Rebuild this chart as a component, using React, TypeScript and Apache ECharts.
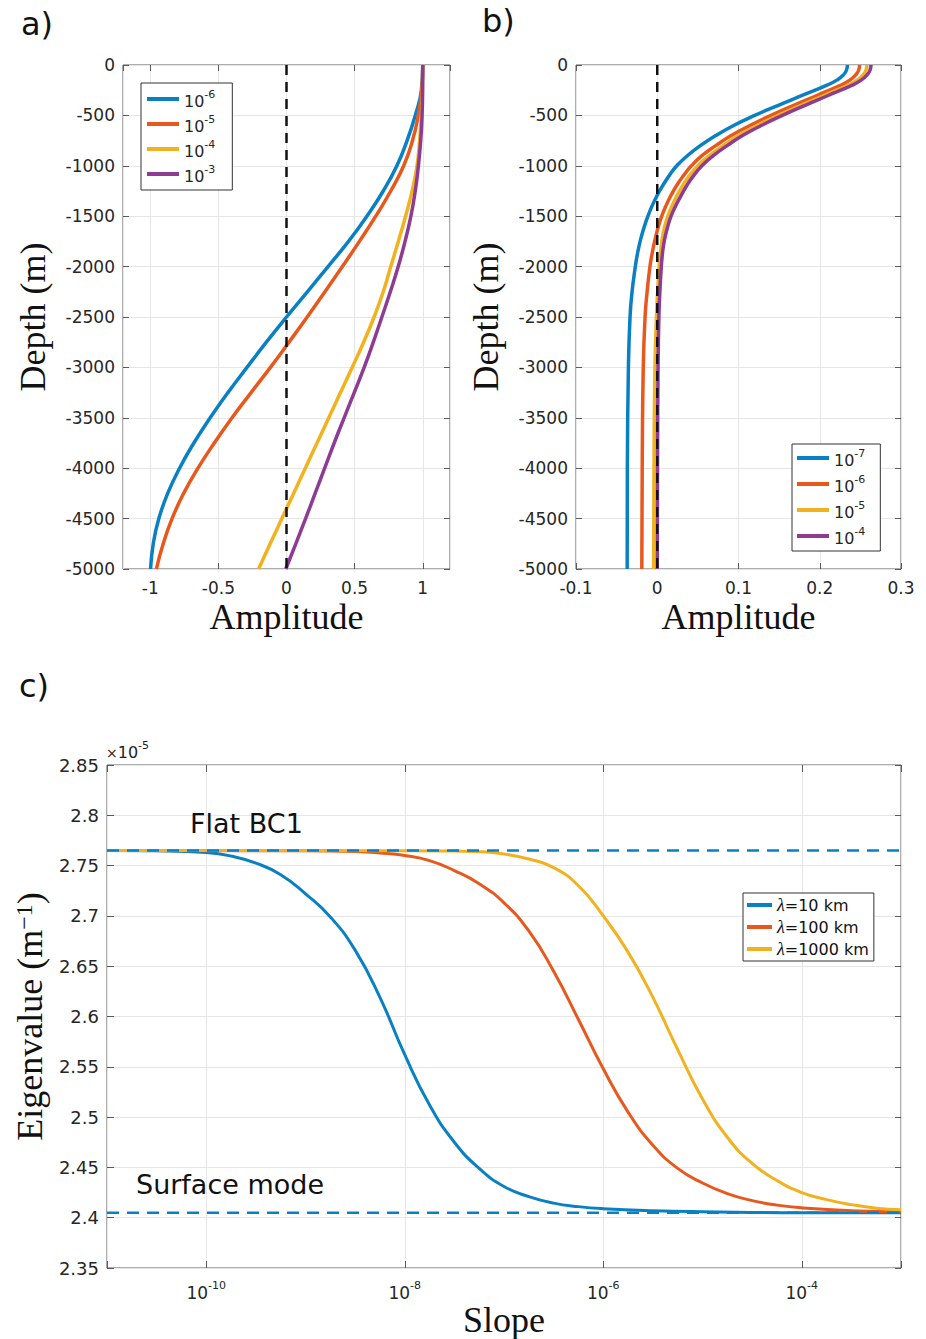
import { useEffect, useRef } from 'react';
import * as echarts from 'echarts';

// ---------- Panel a: depth profiles ----------
const DEPTH_A = [0, -250, -500, -750, -1000, -1250, -1500, -1750, -2000, -2250, -2500, -2750, -3000, -3250, -3500, -3750, -4000, -4250, -4500, -4750, -5000];
const A_1E6 = [1.0, 0.99, 0.945, 0.885, 0.81, 0.71, 0.59, 0.455, 0.305, 0.153, 0.0, -0.148, -0.29, -0.43, -0.56, -0.68, -0.785, -0.872, -0.937, -0.978, -0.998];
const A_1E5 = [1.0, 0.993, 0.967, 0.925, 0.86, 0.765, 0.655, 0.535, 0.41, 0.282, 0.152, 0.018, -0.118, -0.26, -0.40, -0.53, -0.65, -0.755, -0.84, -0.905, -0.955];
const A_1E4 = [1.0, 0.998, 0.99, 0.977, 0.958, 0.922, 0.874, 0.821, 0.765, 0.71, 0.643, 0.566, 0.482, 0.396, 0.31, 0.224, 0.138, 0.052, -0.034, -0.12, -0.205];
const A_1E3 = [1.0, 0.999, 0.995, 0.985, 0.968, 0.945, 0.913, 0.87, 0.82, 0.762, 0.70, 0.637, 0.57, 0.497, 0.423, 0.35, 0.28, 0.21, 0.14, 0.068, -0.005];
const A_NAMES = ['10^-6', '10^-5', '10^-4', '10^-3'];

// ---------- Panel b: depth profiles ----------
const DEPTH_B = [0, -50, -100, -150, -200, -300, -400, -500, -600, -700, -800, -900, -1000, -1100, -1200, -1300, -1400, -1500, -1600, -1700, -1800, -1900, -2000, -2250, -2500, -3000, -4000, -5000];
const B_1E7 = [0.234, 0.233, 0.229, 0.221, 0.209, 0.179, 0.149, 0.120, 0.094, 0.072, 0.053, 0.037, 0.024, 0.0145, 0.0065, -0.0005, -0.0065, -0.0115, -0.0158, -0.0195, -0.0225, -0.025, -0.027, -0.031, -0.0335, -0.0355, -0.0368, -0.037];
const B_1E6 = [0.249, 0.248, 0.244, 0.237, 0.226, 0.197, 0.168, 0.140, 0.114, 0.091, 0.072, 0.055, 0.042, 0.032, 0.0235, 0.0165, 0.0105, 0.0055, 0.0015, -0.0018, -0.0046, -0.007, -0.009, -0.0125, -0.015, -0.0172, -0.0185, -0.019];
const B_1E5 = [0.258, 0.257, 0.253, 0.246, 0.235, 0.206, 0.177, 0.149, 0.123, 0.100, 0.081, 0.064, 0.050, 0.0395, 0.031, 0.024, 0.018, 0.013, 0.0092, 0.0065, 0.0048, 0.0035, 0.0025, 0.0005, -0.001, -0.0028, -0.004, -0.0045];
const B_1E4 = [0.263, 0.262, 0.258, 0.251, 0.240, 0.211, 0.182, 0.154, 0.128, 0.105, 0.086, 0.069, 0.055, 0.0445, 0.036, 0.029, 0.0225, 0.017, 0.013, 0.0098, 0.0075, 0.006, 0.005, 0.0032, 0.002, 0.001, 0.0003, 0.0];
const B_NAMES = ['10^-7', '10^-6', '10^-5', '10^-4'];

const ZERO_AMPLITUDE = 0;
const ZERO_LINE_DEPTHS = [0, -5000];

// ---------- Panel c: eigenvalue (×1e-5 m^-1) vs slope (log10 exponent) ----------
const C10_LOG_SLOPE = [-11, -10.5, -10, -9.75, -9.5, -9.25, -9, -8.75, -8.5, -8.25, -8, -7.75, -7.5, -7.25, -7, -6.75, -6.5, -6.25, -6, -5.5, -5, -4, -3];
const C10_EIG = [2.765, 2.7647, 2.763, 2.7595, 2.7525, 2.741, 2.722, 2.699, 2.666, 2.619, 2.562, 2.512, 2.475, 2.449, 2.431, 2.421, 2.4145, 2.411, 2.409, 2.407, 2.406, 2.405, 2.405];
const C100_LOG_SLOPE = [-11, -9, -8.5, -8.25, -8, -7.75, -7.5, -7.25, -7, -6.75, -6.5, -6.25, -6, -5.75, -5.5, -5.25, -5, -4.75, -4.5, -4.25, -4, -3.5, -3];
const C100_EIG = [2.765, 2.7648, 2.764, 2.7625, 2.76, 2.755, 2.745, 2.732, 2.713, 2.685, 2.645, 2.597, 2.548, 2.505, 2.472, 2.449, 2.4345, 2.424, 2.417, 2.4125, 2.4098, 2.407, 2.406];
const C1000_LOG_SLOPE = [-11, -8, -7.5, -7.25, -7, -6.75, -6.5, -6.25, -6, -5.75, -5.5, -5.25, -5, -4.75, -4.5, -4.25, -4, -3.75, -3.5, -3.25, -3];
const C1000_EIG = [2.765, 2.7648, 2.7644, 2.7638, 2.7615, 2.7565, 2.748, 2.73, 2.70, 2.664, 2.619, 2.567, 2.518, 2.48, 2.454, 2.437, 2.425, 2.418, 2.413, 2.4095, 2.408];
const C_NAMES = ['λ=10 km', 'λ=100 km', 'λ=1000 km'];
const FLAT_BC1 = 2.765;
const SURFACE_MODE = 2.405;
const C_SLOPE_RANGE = [-11, -3];

const COLORS = ['#0A80C4', '#E8581D', '#F2B21F', '#8E3B93'];
const SANS = 'DejaVu Sans';
const SERIF = 'Liberation Serif';
const FRAME = '#5a5a5a';
const GRIDLINE = '#e6e6e6';
const TICK_TEXT = '#262626';

const pair = (xs: number[], ys: number[]) => xs.map((x, i) => [x, ys[i]]);
const profile = (vals: number[], depths: number[]) => vals.map((v, i) => [v, depths[i]]);

const supRich = (size: number, supSize: number, lh: number) => ({
  b: { fontFamily: SANS, fontSize: size, lineHeight: lh, verticalAlign: 'bottom', color: TICK_TEXT },
  s: { fontFamily: SANS, fontSize: supSize, lineHeight: lh, verticalAlign: 'top', color: TICK_TEXT },
});

const axisNameStyle = { fontFamily: SERIF, fontSize: 36, color: '#111' };

function App() {
  const ref = useRef<HTMLDivElement>(null);
  useEffect(() => {
    if (!ref.current) return;
    const chart = echarts.init(ref.current, undefined, { renderer: 'svg' });

    const tickLabel = { fontFamily: SANS, fontSize: 17, color: TICK_TEXT };
    const tick = (len = 6) => ({ show: true, inside: true, length: len, lineStyle: { color: FRAME } });
    const mirrorX = (gridIndex: number, min: number, max: number, extra: any = {}) => ({
      gridIndex, type: 'value', min, max, position: 'top',
      axisLine: { show: false, onZero: false }, axisTick: tick(),
      axisLabel: { show: false }, splitLine: { show: false }, ...extra,
    });
    const mirrorY = (gridIndex: number, min: number, max: number, extra: any = {}) => ({
      gridIndex, type: 'value', min, max, position: 'right',
      axisLine: { show: false, onZero: false }, axisTick: tick(),
      axisLabel: { show: false }, splitLine: { show: false }, ...extra,
    });
    const depthAxis = (gridIndex: number) => ({
      gridIndex, type: 'value', min: -5000, max: 0, interval: 500, position: 'left',
      axisLine: { show: false, onZero: false }, axisTick: tick(),
      axisLabel: { ...tickLabel, margin: 8, showMinLabel: true, showMaxLabel: true, formatter: (v: number) => String(v) },
      splitLine: { show: true, lineStyle: { color: GRIDLINE, width: 1 } },
      name: 'Depth (m)', nameLocation: 'middle', nameRotate: 90, nameGap: 72, nameTextStyle: axisNameStyle,
    });

    const legendBase = {
      orient: 'vertical', icon: 'rect', itemHeight: 4, selectedMode: false,
      borderColor: '#333', borderWidth: 1, backgroundColor: '#fff',
    };

    const lineSeries = (name: string, data: number[][], color: string, xi: number, yi: number, width: number) => ({
      name, type: 'line', xAxisIndex: xi, yAxisIndex: yi, data, showSymbol: false, symbol: 'none',
      smooth: 0.5, color, lineStyle: { color, width }, z: 3,
    });

    const option: any = {
      animation: false,
      backgroundColor: '#fff',
      grid: [
        { left: 123, top: 65, width: 327, height: 504, show: true, borderColor: FRAME, borderWidth: 1, backgroundColor: '#fff' },
        { left: 576, top: 65, width: 325, height: 504, show: true, borderColor: FRAME, borderWidth: 1, backgroundColor: '#fff' },
        { left: 107, top: 765, width: 794, height: 503, show: true, borderColor: FRAME, borderWidth: 1, backgroundColor: '#fff' },
      ],
      xAxis: [
        {
          gridIndex: 0, type: 'value', min: -1.2, max: 1.2, position: 'bottom',
          axisLine: { show: false, onZero: false }, axisTick: tick(),
          axisLabel: { ...tickLabel, margin: 10, showMinLabel: false, showMaxLabel: false, formatter: (v: number) => String(+v.toFixed(3)) },
          splitLine: { show: true, lineStyle: { color: GRIDLINE } },
          name: 'Amplitude', nameLocation: 'middle', nameGap: 30, nameTextStyle: axisNameStyle,
        },
        mirrorX(0, -1.2, 1.2),
        {
          gridIndex: 1, type: 'value', min: -0.1, max: 0.3, interval: 0.1, position: 'bottom',
          axisLine: { show: false, onZero: false }, axisTick: tick(),
          axisLabel: { ...tickLabel, margin: 10, showMinLabel: true, showMaxLabel: true, formatter: (v: number) => String(+v.toFixed(3)) },
          splitLine: { show: true, lineStyle: { color: GRIDLINE } },
          name: 'Amplitude', nameLocation: 'middle', nameGap: 30, nameTextStyle: axisNameStyle,
        },
        mirrorX(1, -0.1, 0.3, { interval: 0.1 }),
        {
          gridIndex: 2, type: 'value', min: C_SLOPE_RANGE[0], max: C_SLOPE_RANGE[1], splitNumber: 4, position: 'bottom',
          axisLine: { show: false, onZero: false }, axisTick: tick(7),
          axisLabel: {
            margin: 12,
            formatter: (v: number) => {
              const r = Math.round(v);
              if (Math.abs(v - r) > 1e-6 || r % 2 !== 0) return '';
              return `{b|10}{s|${r}}`;
            },
            rich: supRich(17, 11, 21),
          },
          splitLine: { show: true, lineStyle: { color: GRIDLINE } },
          name: 'Slope', nameLocation: 'middle', nameGap: 34, nameTextStyle: axisNameStyle,
        },
        mirrorX(2, C_SLOPE_RANGE[0], C_SLOPE_RANGE[1], { splitNumber: 4, axisTick: tick(7) }),
      ],
      yAxis: [
        depthAxis(0),
        mirrorY(0, -5000, 0, { interval: 500 }),
        depthAxis(1),
        mirrorY(1, -5000, 0, { interval: 500 }),
        {
          gridIndex: 2, type: 'value', min: 2.35, max: 2.85, interval: 0.05, position: 'left',
          axisLine: { show: false, onZero: false }, axisTick: tick(7),
          axisLabel: { fontFamily: SANS, fontSize: 18, color: TICK_TEXT, margin: 8, showMinLabel: true, showMaxLabel: true, formatter: (v: number) => String(+v.toFixed(2)) },
          splitLine: { show: true, lineStyle: { color: GRIDLINE } },
          name: 'Eigenvalue (m{s|−1})', nameLocation: 'middle', nameRotate: 90, nameGap: 56,
          nameTextStyle: { ...axisNameStyle, rich: { s: { fontFamily: SERIF, fontSize: 24, color: '#111', verticalAlign: 'top', lineHeight: 36 } } },
        },
        mirrorY(2, 2.35, 2.85, { interval: 0.05 }),
      ],
      legend: [
        {
          ...legendBase, left: 141, top: 83, itemWidth: 32, itemGap: 5, padding: [6, 17, 6, 6],
          data: A_NAMES.map((n) => 'a ' + n),
          formatter: (name: string) => `{b|10}{s|${name.split('^')[1]}}`,
          textStyle: { rich: supRich(16, 11, 20) },
        },
        {
          ...legendBase, left: 792, top: 444, itemWidth: 32, itemGap: 6, padding: [4, 15, 5, 5],
          data: B_NAMES.map((n) => 'b ' + n),
          formatter: (name: string) => `{b|10}{s|${name.split('^')[1]}}`,
          textStyle: { rich: supRich(16, 11, 20) },
        },
        {
          ...legendBase, left: 743, top: 893, itemWidth: 25, itemHeight: 4, itemGap: 4, padding: [3, 5, 3, 4],
          data: C_NAMES,
          formatter: (name: string) => `{l|λ}{t|${name.slice(1)}}`,
          textStyle: {
            rich: {
              l: { fontFamily: SERIF, fontStyle: 'italic', fontSize: 18, lineHeight: 17, color: '#111' },
              t: { fontFamily: SANS, fontSize: 16, lineHeight: 17, color: '#111' },
            },
          },
        },
      ],
      graphic: [
        { type: 'text', left: 21, top: 8, style: { text: 'a)', font: `32px "${SANS}"`, fill: '#111' } },
        { type: 'text', left: 482, top: 5, style: { text: 'b)', font: `32px "${SANS}"`, fill: '#111' } },
        { type: 'text', left: 19, top: 670, style: { text: 'c)', font: `32px "${SANS}"`, fill: '#111' } },
        { type: 'text', left: 190, top: 810, z: 20, style: { text: 'Flat BC1', font: `27px "${SANS}"`, fill: '#111' } },
        { type: 'text', left: 136, top: 1171, z: 20, style: { text: 'Surface mode', font: `27px "${SANS}"`, fill: '#111' } },
        {
          type: 'text', left: 106, top: 740, z: 20,
          style: {
            text: '{x|×}{b|10}{s|-5}',
            rich: {
              x: { fontFamily: SANS, fontSize: 14, lineHeight: 20, verticalAlign: 'bottom', fill: '#222' },
              b: { fontFamily: SANS, fontSize: 16, lineHeight: 20, verticalAlign: 'bottom', fill: '#222' },
              s: { fontFamily: SANS, fontSize: 11, lineHeight: 20, verticalAlign: 'top', fill: '#222' },
            },
          },
        },
      ],
      series: [
        lineSeries('a ' + A_NAMES[0], profile(A_1E6, DEPTH_A), COLORS[0], 0, 0, 3.5),
        lineSeries('a ' + A_NAMES[1], profile(A_1E5, DEPTH_A), COLORS[1], 0, 0, 3.5),
        lineSeries('a ' + A_NAMES[2], profile(A_1E4, DEPTH_A), COLORS[2], 0, 0, 3.5),
        lineSeries('a ' + A_NAMES[3], profile(A_1E3, DEPTH_A), COLORS[3], 0, 0, 3.5),
        {
          name: 'zero a', type: 'line', xAxisIndex: 0, yAxisIndex: 0, symbol: 'none', z: 10,
          data: ZERO_LINE_DEPTHS.map((d) => [ZERO_AMPLITUDE, d]),
          lineStyle: { color: '#111', width: 2.5, type: [10, 7] },
        },
        lineSeries('b ' + B_NAMES[0], profile(B_1E7, DEPTH_B), COLORS[0], 2, 2, 3.5),
        lineSeries('b ' + B_NAMES[1], profile(B_1E6, DEPTH_B), COLORS[1], 2, 2, 3.5),
        lineSeries('b ' + B_NAMES[2], profile(B_1E5, DEPTH_B), COLORS[2], 2, 2, 3.5),
        lineSeries('b ' + B_NAMES[3], profile(B_1E4, DEPTH_B), COLORS[3], 2, 2, 3.5),
        {
          name: 'zero b', type: 'line', xAxisIndex: 2, yAxisIndex: 2, symbol: 'none', z: 10,
          data: ZERO_LINE_DEPTHS.map((d) => [ZERO_AMPLITUDE, d]),
          lineStyle: { color: '#111', width: 2.5, type: [10, 7] },
        },
        lineSeries(C_NAMES[0], pair(C10_LOG_SLOPE, C10_EIG), COLORS[0], 4, 4, 3),
        lineSeries(C_NAMES[1], pair(C100_LOG_SLOPE, C100_EIG), COLORS[1], 4, 4, 3),
        lineSeries(C_NAMES[2], pair(C1000_LOG_SLOPE, C1000_EIG), COLORS[2], 4, 4, 3),
        {
          name: 'Flat BC1', type: 'line', xAxisIndex: 4, yAxisIndex: 4, symbol: 'none', z: 10,
          data: C_SLOPE_RANGE.map((x) => [x, FLAT_BC1]),
          lineStyle: { color: COLORS[0], width: 2.5, type: [12, 8] },
        },
        {
          name: 'Surface mode', type: 'line', xAxisIndex: 4, yAxisIndex: 4, symbol: 'none', z: 10,
          data: C_SLOPE_RANGE.map((x) => [x, SURFACE_MODE]),
          lineStyle: { color: COLORS[0], width: 2.5, type: [12, 8] },
        },
      ],
    };

    chart.setOption(option);
    return () => chart.dispose();
  }, []);

  return <div ref={ref} style={{ position: 'absolute', left: 0, top: 0, width: 926, height: 1339, background: '#fff' }} />;
}

export default App;
